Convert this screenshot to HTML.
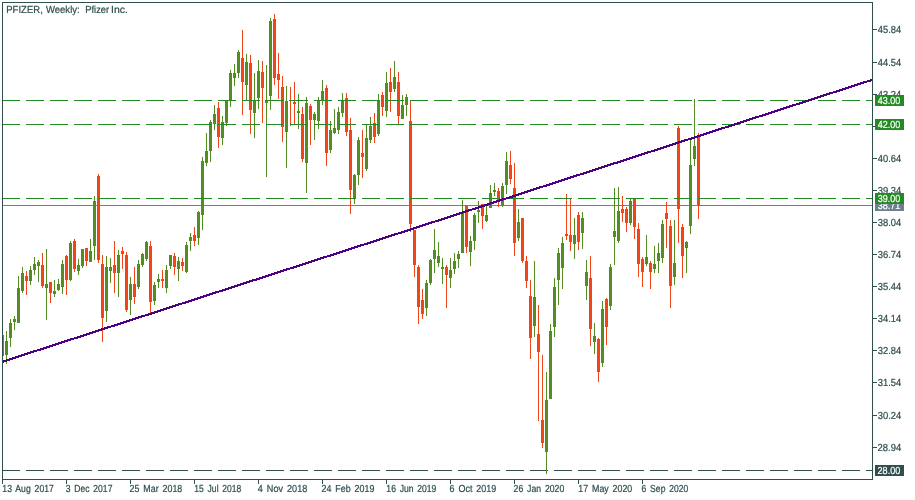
<!DOCTYPE html>
<html><head><meta charset="utf-8"><title>PFIZER Weekly</title>
<style>
html,body{margin:0;padding:0;background:#fff;}
body{width:915px;height:500px;overflow:hidden;}
svg{display:block;transform:translateZ(0);will-change:transform;}
text{font-family:"Liberation Sans",sans-serif;font-size:10.2px;stroke-width:0.22px;}
</style></head><body>
<svg width="915" height="500" viewBox="0 0 915 500">
<rect x="0" y="0" width="915" height="500" fill="#ffffff"/>
<line x1="2" y1="470.5" x2="872" y2="470.5" stroke="#2f4f4f" stroke-width="1" stroke-dasharray="18 6" shape-rendering="crispEdges"/>
<rect x="3" y="205" width="869" height="1" fill="#708090" shape-rendering="crispEdges"/>
<g fill="#548c24" shape-rendering="crispEdges"><rect x="6" y="331" width="1" height="33"/><rect x="5" y="341" width="3" height="14"/><rect x="10" y="319" width="1" height="28"/><rect x="9" y="323" width="3" height="15"/><rect x="14" y="316" width="1" height="14"/><rect x="13" y="319" width="3" height="3"/><rect x="18" y="276" width="1" height="47"/><rect x="17" y="288" width="3" height="35"/><rect x="22" y="267" width="1" height="26"/><rect x="21" y="273" width="3" height="18"/><rect x="30" y="266" width="1" height="19"/><rect x="29" y="270" width="3" height="11"/><rect x="34" y="257" width="1" height="18"/><rect x="33" y="264" width="3" height="6"/><rect x="38" y="260" width="1" height="22"/><rect x="37" y="262" width="3" height="4"/><rect x="46" y="249" width="1" height="71"/><rect x="45" y="284" width="3" height="4"/><rect x="54" y="280" width="1" height="17"/><rect x="53" y="291" width="3" height="3"/><rect x="58" y="279" width="1" height="12"/><rect x="57" y="284" width="3" height="6"/><rect x="62" y="260" width="1" height="34"/><rect x="61" y="264" width="3" height="23"/><rect x="70" y="241" width="1" height="40"/><rect x="69" y="243" width="3" height="37"/><rect x="78" y="259" width="1" height="16"/><rect x="77" y="265" width="3" height="6"/><rect x="82" y="249" width="1" height="19"/><rect x="81" y="249" width="3" height="17"/><rect x="90" y="239" width="1" height="23"/><rect x="89" y="251" width="3" height="11"/><rect x="94" y="196" width="1" height="64"/><rect x="93" y="201" width="3" height="45"/><rect x="106" y="256" width="1" height="66"/><rect x="105" y="267" width="3" height="44"/><rect x="110" y="258" width="1" height="25"/><rect x="109" y="267" width="3" height="4"/><rect x="118" y="250" width="1" height="47"/><rect x="117" y="255" width="3" height="18"/><rect x="130" y="277" width="1" height="38"/><rect x="129" y="284" width="3" height="16"/><rect x="138" y="260" width="1" height="29"/><rect x="137" y="264" width="3" height="23"/><rect x="142" y="253" width="1" height="14"/><rect x="141" y="254" width="3" height="11"/><rect x="146" y="241" width="1" height="20"/><rect x="145" y="242" width="3" height="17"/><rect x="154" y="282" width="1" height="23"/><rect x="153" y="285" width="3" height="16"/><rect x="158" y="274" width="1" height="14"/><rect x="157" y="279" width="3" height="3"/><rect x="166" y="265" width="1" height="28"/><rect x="165" y="270" width="3" height="18"/><rect x="170" y="255" width="1" height="14"/><rect x="169" y="255" width="3" height="11"/><rect x="178" y="257" width="1" height="24"/><rect x="177" y="261" width="3" height="8"/><rect x="186" y="242" width="1" height="31"/><rect x="185" y="245" width="3" height="27"/><rect x="190" y="233" width="1" height="18"/><rect x="189" y="237" width="3" height="4"/><rect x="198" y="211" width="1" height="34"/><rect x="197" y="212" width="3" height="26"/><rect x="202" y="157" width="1" height="73"/><rect x="201" y="161" width="3" height="54"/><rect x="206" y="133" width="1" height="33"/><rect x="205" y="151" width="3" height="12"/><rect x="210" y="120" width="1" height="42"/><rect x="209" y="122" width="3" height="29"/><rect x="214" y="105" width="1" height="25"/><rect x="213" y="114" width="3" height="10"/><rect x="222" y="116" width="1" height="29"/><rect x="221" y="122" width="3" height="16"/><rect x="226" y="100" width="1" height="26"/><rect x="225" y="101" width="3" height="22"/><rect x="230" y="70" width="1" height="37"/><rect x="229" y="73" width="3" height="27"/><rect x="234" y="64" width="1" height="22"/><rect x="233" y="73" width="3" height="5"/><rect x="238" y="50" width="1" height="28"/><rect x="237" y="52" width="3" height="21"/><rect x="246" y="54" width="1" height="46"/><rect x="245" y="62" width="3" height="23"/><rect x="254" y="73" width="1" height="65"/><rect x="253" y="101" width="3" height="12"/><rect x="258" y="60" width="1" height="49"/><rect x="257" y="71" width="3" height="27"/><rect x="266" y="65" width="1" height="112"/><rect x="265" y="100" width="3" height="3"/><rect x="270" y="18" width="1" height="92"/><rect x="269" y="21" width="3" height="75"/><rect x="286" y="86" width="1" height="82"/><rect x="285" y="101" width="3" height="31"/><rect x="298" y="94" width="1" height="35"/><rect x="297" y="111" width="3" height="2"/><rect x="306" y="97" width="1" height="96"/><rect x="305" y="103" width="3" height="60"/><rect x="314" y="112" width="1" height="28"/><rect x="313" y="114" width="3" height="6"/><rect x="318" y="97" width="1" height="32"/><rect x="317" y="101" width="3" height="20"/><rect x="322" y="80" width="1" height="25"/><rect x="321" y="91" width="3" height="9"/><rect x="330" y="121" width="1" height="32"/><rect x="329" y="130" width="3" height="20"/><rect x="334" y="109" width="1" height="25"/><rect x="333" y="128" width="3" height="5"/><rect x="338" y="107" width="1" height="27"/><rect x="337" y="112" width="3" height="18"/><rect x="342" y="93" width="1" height="24"/><rect x="341" y="100" width="3" height="13"/><rect x="354" y="174" width="1" height="30"/><rect x="353" y="175" width="3" height="23"/><rect x="358" y="137" width="1" height="48"/><rect x="357" y="140" width="3" height="35"/><rect x="366" y="124" width="1" height="47"/><rect x="365" y="138" width="3" height="31"/><rect x="370" y="117" width="1" height="26"/><rect x="369" y="126" width="3" height="14"/><rect x="378" y="94" width="1" height="42"/><rect x="377" y="100" width="3" height="34"/><rect x="386" y="72" width="1" height="45"/><rect x="385" y="83" width="3" height="28"/><rect x="394" y="61" width="1" height="31"/><rect x="393" y="77" width="3" height="12"/><rect x="402" y="95" width="1" height="24"/><rect x="401" y="105" width="3" height="14"/><rect x="406" y="94" width="1" height="22"/><rect x="405" y="97" width="3" height="8"/><rect x="426" y="280" width="1" height="36"/><rect x="425" y="283" width="3" height="25"/><rect x="430" y="259" width="1" height="26"/><rect x="429" y="260" width="3" height="23"/><rect x="434" y="229" width="1" height="44"/><rect x="433" y="250" width="3" height="9"/><rect x="438" y="242" width="1" height="25"/><rect x="437" y="256" width="3" height="7"/><rect x="442" y="258" width="1" height="26"/><rect x="441" y="267" width="3" height="2"/><rect x="450" y="258" width="1" height="30"/><rect x="449" y="270" width="3" height="8"/><rect x="454" y="253" width="1" height="21"/><rect x="453" y="261" width="3" height="8"/><rect x="458" y="251" width="1" height="17"/><rect x="457" y="254" width="3" height="5"/><rect x="462" y="200" width="1" height="53"/><rect x="461" y="213" width="3" height="40"/><rect x="470" y="236" width="1" height="30"/><rect x="469" y="241" width="3" height="11"/><rect x="474" y="213" width="1" height="37"/><rect x="473" y="215" width="3" height="26"/><rect x="478" y="201" width="1" height="22"/><rect x="477" y="210" width="3" height="2"/><rect x="486" y="206" width="1" height="16"/><rect x="485" y="215" width="3" height="6"/><rect x="490" y="185" width="1" height="23"/><rect x="489" y="193" width="3" height="15"/><rect x="494" y="183" width="1" height="13"/><rect x="493" y="190" width="3" height="2"/><rect x="502" y="183" width="1" height="24"/><rect x="501" y="186" width="3" height="20"/><rect x="506" y="152" width="1" height="42"/><rect x="505" y="161" width="3" height="24"/><rect x="518" y="209" width="1" height="32"/><rect x="517" y="222" width="3" height="16"/><rect x="534" y="261" width="1" height="76"/><rect x="533" y="297" width="3" height="29"/><rect x="546" y="372" width="1" height="102"/><rect x="545" y="400" width="3" height="52"/><rect x="550" y="324" width="1" height="75"/><rect x="549" y="331" width="3" height="68"/><rect x="554" y="278" width="1" height="59"/><rect x="553" y="287" width="3" height="40"/><rect x="558" y="248" width="1" height="57"/><rect x="557" y="253" width="3" height="27"/><rect x="562" y="237" width="1" height="52"/><rect x="561" y="243" width="3" height="25"/><rect x="574" y="218" width="1" height="41"/><rect x="573" y="235" width="3" height="9"/><rect x="582" y="212" width="1" height="37"/><rect x="581" y="218" width="3" height="15"/><rect x="586" y="260" width="1" height="40"/><rect x="585" y="272" width="3" height="14"/><rect x="594" y="323" width="1" height="31"/><rect x="593" y="336" width="3" height="6"/><rect x="602" y="301" width="1" height="66"/><rect x="601" y="309" width="3" height="54"/><rect x="610" y="264" width="1" height="46"/><rect x="609" y="267" width="3" height="39"/><rect x="614" y="188" width="1" height="77"/><rect x="613" y="231" width="3" height="6"/><rect x="618" y="187" width="1" height="56"/><rect x="617" y="211" width="3" height="30"/><rect x="630" y="198" width="1" height="27"/><rect x="629" y="201" width="3" height="22"/><rect x="646" y="235" width="1" height="31"/><rect x="645" y="257" width="3" height="7"/><rect x="654" y="246" width="1" height="27"/><rect x="653" y="264" width="3" height="5"/><rect x="658" y="243" width="1" height="30"/><rect x="657" y="253" width="3" height="8"/><rect x="662" y="220" width="1" height="43"/><rect x="661" y="224" width="3" height="34"/><rect x="674" y="220" width="1" height="65"/><rect x="673" y="263" width="3" height="14"/><rect x="686" y="241" width="1" height="32"/><rect x="685" y="242" width="3" height="6"/><rect x="690" y="140" width="1" height="94"/><rect x="689" y="165" width="3" height="61"/><rect x="694" y="99" width="1" height="67"/><rect x="693" y="146" width="3" height="13"/></g>
<g fill="#ef4519" shape-rendering="crispEdges"><rect x="3" y="335" width="1" height="21"/><rect x="26" y="271" width="1" height="24"/><rect x="25" y="276" width="3" height="5"/><rect x="42" y="253" width="1" height="35"/><rect x="41" y="265" width="3" height="21"/><rect x="50" y="282" width="1" height="21"/><rect x="49" y="282" width="3" height="11"/><rect x="66" y="255" width="1" height="40"/><rect x="65" y="256" width="3" height="24"/><rect x="74" y="239" width="1" height="33"/><rect x="73" y="241" width="3" height="28"/><rect x="86" y="248" width="1" height="18"/><rect x="85" y="248" width="3" height="13"/><rect x="98" y="174" width="1" height="89"/><rect x="97" y="176" width="3" height="84"/><rect x="102" y="255" width="1" height="87"/><rect x="101" y="264" width="3" height="54"/><rect x="114" y="241" width="1" height="52"/><rect x="113" y="265" width="3" height="8"/><rect x="122" y="247" width="1" height="22"/><rect x="121" y="251" width="3" height="3"/><rect x="126" y="252" width="1" height="60"/><rect x="125" y="255" width="3" height="55"/><rect x="134" y="267" width="1" height="37"/><rect x="133" y="284" width="3" height="13"/><rect x="150" y="241" width="1" height="72"/><rect x="149" y="246" width="3" height="56"/><rect x="162" y="270" width="1" height="18"/><rect x="161" y="279" width="3" height="2"/><rect x="174" y="253" width="1" height="22"/><rect x="173" y="256" width="3" height="11"/><rect x="182" y="258" width="1" height="13"/><rect x="181" y="262" width="3" height="4"/><rect x="194" y="227" width="1" height="19"/><rect x="193" y="235" width="3" height="6"/><rect x="218" y="102" width="1" height="46"/><rect x="217" y="108" width="3" height="29"/><rect x="242" y="30" width="1" height="85"/><rect x="241" y="58" width="3" height="24"/><rect x="250" y="55" width="1" height="79"/><rect x="249" y="63" width="3" height="47"/><rect x="262" y="61" width="1" height="62"/><rect x="261" y="72" width="3" height="16"/><rect x="274" y="14" width="1" height="71"/><rect x="273" y="19" width="3" height="59"/><rect x="278" y="53" width="1" height="46"/><rect x="277" y="74" width="3" height="6"/><rect x="282" y="76" width="1" height="66"/><rect x="281" y="87" width="3" height="40"/><rect x="290" y="87" width="1" height="39"/><rect x="289" y="100" width="3" height="1"/><rect x="294" y="82" width="1" height="42"/><rect x="293" y="102" width="3" height="2"/><rect x="302" y="107" width="1" height="55"/><rect x="301" y="114" width="3" height="45"/><rect x="310" y="104" width="1" height="41"/><rect x="309" y="106" width="3" height="14"/><rect x="326" y="85" width="1" height="81"/><rect x="325" y="88" width="3" height="65"/><rect x="346" y="93" width="1" height="43"/><rect x="345" y="98" width="3" height="34"/><rect x="350" y="118" width="1" height="96"/><rect x="349" y="130" width="3" height="60"/><rect x="362" y="130" width="1" height="48"/><rect x="361" y="153" width="3" height="4"/><rect x="374" y="113" width="1" height="30"/><rect x="373" y="123" width="3" height="14"/><rect x="382" y="92" width="1" height="24"/><rect x="381" y="95" width="3" height="12"/><rect x="390" y="68" width="1" height="44"/><rect x="389" y="82" width="3" height="10"/><rect x="398" y="72" width="1" height="52"/><rect x="397" y="82" width="3" height="34"/><rect x="410" y="100" width="1" height="132"/><rect x="409" y="121" width="3" height="103"/><rect x="414" y="230" width="1" height="47"/><rect x="413" y="230" width="3" height="35"/><rect x="418" y="265" width="1" height="59"/><rect x="417" y="267" width="3" height="40"/><rect x="422" y="289" width="1" height="30"/><rect x="421" y="300" width="3" height="14"/><rect x="446" y="265" width="1" height="43"/><rect x="445" y="267" width="3" height="8"/><rect x="466" y="205" width="1" height="48"/><rect x="465" y="206" width="3" height="41"/><rect x="482" y="204" width="1" height="25"/><rect x="481" y="204" width="3" height="12"/><rect x="498" y="188" width="1" height="19"/><rect x="497" y="191" width="3" height="9"/><rect x="510" y="151" width="1" height="33"/><rect x="509" y="165" width="3" height="14"/><rect x="514" y="163" width="1" height="93"/><rect x="513" y="188" width="3" height="55"/><rect x="522" y="218" width="1" height="45"/><rect x="521" y="218" width="3" height="43"/><rect x="526" y="256" width="1" height="32"/><rect x="525" y="261" width="3" height="20"/><rect x="530" y="280" width="1" height="79"/><rect x="529" y="296" width="3" height="42"/><rect x="538" y="305" width="1" height="116"/><rect x="537" y="334" width="3" height="18"/><rect x="542" y="355" width="1" height="93"/><rect x="541" y="420" width="3" height="23"/><rect x="566" y="194" width="1" height="46"/><rect x="565" y="234" width="3" height="2"/><rect x="570" y="198" width="1" height="53"/><rect x="569" y="235" width="3" height="7"/><rect x="578" y="212" width="1" height="38"/><rect x="577" y="215" width="3" height="27"/><rect x="590" y="256" width="1" height="90"/><rect x="589" y="278" width="3" height="51"/><rect x="598" y="338" width="1" height="44"/><rect x="597" y="339" width="3" height="33"/><rect x="606" y="298" width="1" height="47"/><rect x="605" y="299" width="3" height="28"/><rect x="622" y="196" width="1" height="26"/><rect x="621" y="209" width="3" height="4"/><rect x="626" y="207" width="1" height="25"/><rect x="625" y="209" width="3" height="14"/><rect x="634" y="198" width="1" height="41"/><rect x="633" y="199" width="3" height="28"/><rect x="638" y="223" width="1" height="54"/><rect x="637" y="229" width="3" height="35"/><rect x="642" y="257" width="1" height="30"/><rect x="641" y="259" width="3" height="13"/><rect x="650" y="261" width="1" height="28"/><rect x="649" y="263" width="3" height="9"/><rect x="666" y="202" width="1" height="46"/><rect x="665" y="213" width="3" height="6"/><rect x="670" y="220" width="1" height="88"/><rect x="669" y="226" width="3" height="60"/><rect x="678" y="126" width="1" height="117"/><rect x="677" y="128" width="3" height="81"/><rect x="682" y="224" width="1" height="54"/><rect x="681" y="227" width="3" height="29"/><rect x="698" y="133" width="1" height="86"/><rect x="697" y="135" width="3" height="71"/></g>
<line x1="2" y1="100.5" x2="872" y2="100.5" stroke="#228b22" stroke-width="1" stroke-dasharray="18 6" shape-rendering="crispEdges"/>
<line x1="2" y1="124.5" x2="872" y2="124.5" stroke="#228b22" stroke-width="1" stroke-dasharray="18 6" shape-rendering="crispEdges"/>
<line x1="2" y1="198.5" x2="872" y2="198.5" stroke="#228b22" stroke-width="1" stroke-dasharray="18 6" shape-rendering="crispEdges"/>
<path d="M3 360h1v3h-1zM4 360h2v2h-2zM6 359h1v3h-1zM7 359h2v2h-2zM9 358h1v3h-1zM10 358h2v2h-2zM12 357h1v3h-1zM13 357h2v2h-2zM15 356h1v3h-1zM16 356h2v2h-2zM18 355h1v3h-1zM19 355h2v2h-2zM21 354h1v3h-1zM22 354h2v2h-2zM24 353h1v3h-1zM25 353h2v2h-2zM27 352h1v3h-1zM28 352h2v2h-2zM30 351h1v3h-1zM31 351h2v2h-2zM33 350h1v3h-1zM34 350h3v2h-3zM37 349h3v2h-3zM40 348h1v3h-1zM41 348h2v2h-2zM43 347h1v3h-1zM44 347h2v2h-2zM46 346h1v3h-1zM47 346h2v2h-2zM49 345h1v3h-1zM50 345h2v2h-2zM52 344h1v3h-1zM53 344h2v2h-2zM55 343h1v3h-1zM56 343h2v2h-2zM58 342h1v3h-1zM59 342h2v2h-2zM61 341h1v3h-1zM62 341h2v2h-2zM64 340h1v3h-1zM65 340h2v2h-2zM67 339h1v3h-1zM68 339h2v2h-2zM70 338h1v3h-1zM71 338h3v2h-3zM74 337h3v2h-3zM77 336h1v3h-1zM78 336h2v2h-2zM80 335h1v3h-1zM81 335h2v2h-2zM83 334h1v3h-1zM84 334h2v2h-2zM86 333h1v3h-1zM87 333h2v2h-2zM89 332h1v3h-1zM90 332h2v2h-2zM92 331h1v3h-1zM93 331h2v2h-2zM95 330h1v3h-1zM96 330h2v2h-2zM98 329h1v3h-1zM99 329h2v2h-2zM101 328h1v3h-1zM102 328h2v2h-2zM104 327h1v3h-1zM105 327h2v2h-2zM107 326h1v3h-1zM108 326h3v2h-3zM111 325h3v2h-3zM114 324h1v3h-1zM115 324h2v2h-2zM117 323h1v3h-1zM118 323h2v2h-2zM120 322h1v3h-1zM121 322h2v2h-2zM123 321h1v3h-1zM124 321h2v2h-2zM126 320h1v3h-1zM127 320h2v2h-2zM129 319h1v3h-1zM130 319h2v2h-2zM132 318h1v3h-1zM133 318h2v2h-2zM135 317h1v3h-1zM136 317h2v2h-2zM138 316h1v3h-1zM139 316h2v2h-2zM141 315h1v3h-1zM142 315h3v2h-3zM145 314h3v2h-3zM148 313h1v3h-1zM149 313h2v2h-2zM151 312h1v3h-1zM152 312h2v2h-2zM154 311h1v3h-1zM155 311h2v2h-2zM157 310h1v3h-1zM158 310h2v2h-2zM160 309h1v3h-1zM161 309h2v2h-2zM163 308h1v3h-1zM164 308h2v2h-2zM166 307h1v3h-1zM167 307h2v2h-2zM169 306h1v3h-1zM170 306h2v2h-2zM172 305h1v3h-1zM173 305h2v2h-2zM175 304h1v3h-1zM176 304h2v2h-2zM178 303h1v3h-1zM179 303h3v2h-3zM182 302h3v2h-3zM185 301h1v3h-1zM186 301h2v2h-2zM188 300h1v3h-1zM189 300h2v2h-2zM191 299h1v3h-1zM192 299h2v2h-2zM194 298h1v3h-1zM195 298h2v2h-2zM197 297h1v3h-1zM198 297h2v2h-2zM200 296h1v3h-1zM201 296h2v2h-2zM203 295h1v3h-1zM204 295h2v2h-2zM206 294h1v3h-1zM207 294h2v2h-2zM209 293h1v3h-1zM210 293h2v2h-2zM212 292h1v3h-1zM213 292h2v2h-2zM215 291h1v3h-1zM216 291h3v2h-3zM219 290h3v2h-3zM222 289h1v3h-1zM223 289h2v2h-2zM225 288h1v3h-1zM226 288h2v2h-2zM228 287h1v3h-1zM229 287h2v2h-2zM231 286h1v3h-1zM232 286h2v2h-2zM234 285h1v3h-1zM235 285h2v2h-2zM237 284h1v3h-1zM238 284h2v2h-2zM240 283h1v3h-1zM241 283h2v2h-2zM243 282h1v3h-1zM244 282h2v2h-2zM246 281h1v3h-1zM247 281h2v2h-2zM249 280h1v3h-1zM250 280h2v2h-2zM252 279h1v3h-1zM253 279h3v2h-3zM256 278h1v3h-1zM257 278h2v2h-2zM259 277h1v3h-1zM260 277h2v2h-2zM262 276h1v3h-1zM263 276h2v2h-2zM265 275h1v3h-1zM266 275h2v2h-2zM268 274h1v3h-1zM269 274h2v2h-2zM271 273h1v3h-1zM272 273h2v2h-2zM274 272h1v3h-1zM275 272h2v2h-2zM277 271h1v3h-1zM278 271h2v2h-2zM280 270h1v3h-1zM281 270h2v2h-2zM283 269h1v3h-1zM284 269h2v2h-2zM286 268h1v3h-1zM287 268h3v2h-3zM290 267h3v2h-3zM293 266h1v3h-1zM294 266h2v2h-2zM296 265h1v3h-1zM297 265h2v2h-2zM299 264h1v3h-1zM300 264h2v2h-2zM302 263h1v3h-1zM303 263h2v2h-2zM305 262h1v3h-1zM306 262h2v2h-2zM308 261h1v3h-1zM309 261h2v2h-2zM311 260h1v3h-1zM312 260h2v2h-2zM314 259h1v3h-1zM315 259h2v2h-2zM317 258h1v3h-1zM318 258h2v2h-2zM320 257h1v3h-1zM321 257h2v2h-2zM323 256h1v3h-1zM324 256h3v2h-3zM327 255h3v2h-3zM330 254h1v3h-1zM331 254h2v2h-2zM333 253h1v3h-1zM334 253h2v2h-2zM336 252h1v3h-1zM337 252h2v2h-2zM339 251h1v3h-1zM340 251h2v2h-2zM342 250h1v3h-1zM343 250h2v2h-2zM345 249h1v3h-1zM346 249h2v2h-2zM348 248h1v3h-1zM349 248h2v2h-2zM351 247h1v3h-1zM352 247h2v2h-2zM354 246h1v3h-1zM355 246h2v2h-2zM357 245h1v3h-1zM358 245h2v2h-2zM360 244h1v3h-1zM361 244h3v2h-3zM364 243h3v2h-3zM367 242h1v3h-1zM368 242h2v2h-2zM370 241h1v3h-1zM371 241h2v2h-2zM373 240h1v3h-1zM374 240h2v2h-2zM376 239h1v3h-1zM377 239h2v2h-2zM379 238h1v3h-1zM380 238h2v2h-2zM382 237h1v3h-1zM383 237h2v2h-2zM385 236h1v3h-1zM386 236h2v2h-2zM388 235h1v3h-1zM389 235h2v2h-2zM391 234h1v3h-1zM392 234h2v2h-2zM394 233h1v3h-1zM395 233h3v2h-3zM398 232h3v2h-3zM401 231h1v3h-1zM402 231h2v2h-2zM404 230h1v3h-1zM405 230h2v2h-2zM407 229h1v3h-1zM408 229h2v2h-2zM410 228h1v3h-1zM411 228h2v2h-2zM413 227h1v3h-1zM414 227h2v2h-2zM416 226h1v3h-1zM417 226h2v2h-2zM419 225h1v3h-1zM420 225h2v2h-2zM422 224h1v3h-1zM423 224h2v2h-2zM425 223h1v3h-1zM426 223h2v2h-2zM428 222h1v3h-1zM429 222h2v2h-2zM431 221h1v3h-1zM432 221h3v2h-3zM435 220h3v2h-3zM438 219h1v3h-1zM439 219h2v2h-2zM441 218h1v3h-1zM442 218h2v2h-2zM444 217h1v3h-1zM445 217h2v2h-2zM447 216h1v3h-1zM448 216h2v2h-2zM450 215h1v3h-1zM451 215h2v2h-2zM453 214h1v3h-1zM454 214h2v2h-2zM456 213h1v3h-1zM457 213h2v2h-2zM459 212h1v3h-1zM460 212h2v2h-2zM462 211h1v3h-1zM463 211h2v2h-2zM465 210h1v3h-1zM466 210h2v2h-2zM468 209h1v3h-1zM469 209h3v2h-3zM472 208h3v2h-3zM475 207h1v3h-1zM476 207h2v2h-2zM478 206h1v3h-1zM479 206h2v2h-2zM481 205h1v3h-1zM482 205h2v2h-2zM484 204h1v3h-1zM485 204h2v2h-2zM487 203h1v3h-1zM488 203h2v2h-2zM490 202h1v3h-1zM491 202h2v2h-2zM493 201h1v3h-1zM494 201h2v2h-2zM496 200h1v3h-1zM497 200h2v2h-2zM499 199h1v3h-1zM500 199h2v2h-2zM502 198h1v3h-1zM503 198h3v2h-3zM506 197h3v2h-3zM509 196h1v3h-1zM510 196h2v2h-2zM512 195h1v3h-1zM513 195h2v2h-2zM515 194h1v3h-1zM516 194h2v2h-2zM518 193h1v3h-1zM519 193h2v2h-2zM521 192h1v3h-1zM522 192h2v2h-2zM524 191h1v3h-1zM525 191h2v2h-2zM527 190h1v3h-1zM528 190h2v2h-2zM530 189h1v3h-1zM531 189h2v2h-2zM533 188h1v3h-1zM534 188h2v2h-2zM536 187h1v3h-1zM537 187h2v2h-2zM539 186h1v3h-1zM540 186h3v2h-3zM543 185h3v2h-3zM546 184h1v3h-1zM547 184h2v2h-2zM549 183h1v3h-1zM550 183h2v2h-2zM552 182h1v3h-1zM553 182h2v2h-2zM555 181h1v3h-1zM556 181h2v2h-2zM558 180h1v3h-1zM559 180h2v2h-2zM561 179h1v3h-1zM562 179h2v2h-2zM564 178h1v3h-1zM565 178h2v2h-2zM567 177h1v3h-1zM568 177h2v2h-2zM570 176h1v3h-1zM571 176h2v2h-2zM573 175h1v3h-1zM574 175h2v2h-2zM576 174h1v3h-1zM577 174h3v2h-3zM580 173h3v2h-3zM583 172h1v3h-1zM584 172h2v2h-2zM586 171h1v3h-1zM587 171h2v2h-2zM589 170h1v3h-1zM590 170h2v2h-2zM592 169h1v3h-1zM593 169h2v2h-2zM595 168h1v3h-1zM596 168h2v2h-2zM598 167h1v3h-1zM599 167h2v2h-2zM601 166h1v3h-1zM602 166h2v2h-2zM604 165h1v3h-1zM605 165h2v2h-2zM607 164h1v3h-1zM608 164h2v2h-2zM610 163h1v3h-1zM611 163h2v2h-2zM613 162h1v3h-1zM614 162h3v2h-3zM617 161h1v3h-1zM618 161h2v2h-2zM620 160h1v3h-1zM621 160h2v2h-2zM623 159h1v3h-1zM624 159h2v2h-2zM626 158h1v3h-1zM627 158h2v2h-2zM629 157h1v3h-1zM630 157h2v2h-2zM632 156h1v3h-1zM633 156h2v2h-2zM635 155h1v3h-1zM636 155h2v2h-2zM638 154h1v3h-1zM639 154h2v2h-2zM641 153h1v3h-1zM642 153h2v2h-2zM644 152h1v3h-1zM645 152h2v2h-2zM647 151h1v3h-1zM648 151h3v2h-3zM651 150h3v2h-3zM654 149h1v3h-1zM655 149h2v2h-2zM657 148h1v3h-1zM658 148h2v2h-2zM660 147h1v3h-1zM661 147h2v2h-2zM663 146h1v3h-1zM664 146h2v2h-2zM666 145h1v3h-1zM667 145h2v2h-2zM669 144h1v3h-1zM670 144h2v2h-2zM672 143h1v3h-1zM673 143h2v2h-2zM675 142h1v3h-1zM676 142h2v2h-2zM678 141h1v3h-1zM679 141h2v2h-2zM681 140h1v3h-1zM682 140h2v2h-2zM684 139h1v3h-1zM685 139h3v2h-3zM688 138h3v2h-3zM691 137h1v3h-1zM692 137h2v2h-2zM694 136h1v3h-1zM695 136h2v2h-2zM697 135h1v3h-1zM698 135h2v2h-2zM700 134h1v3h-1zM701 134h2v2h-2zM703 133h1v3h-1zM704 133h2v2h-2zM706 132h1v3h-1zM707 132h2v2h-2zM709 131h1v3h-1zM710 131h2v2h-2zM712 130h1v3h-1zM713 130h2v2h-2zM715 129h1v3h-1zM716 129h2v2h-2zM718 128h1v3h-1zM719 128h2v2h-2zM721 127h1v3h-1zM722 127h3v2h-3zM725 126h3v2h-3zM728 125h1v3h-1zM729 125h2v2h-2zM731 124h1v3h-1zM732 124h2v2h-2zM734 123h1v3h-1zM735 123h2v2h-2zM737 122h1v3h-1zM738 122h2v2h-2zM740 121h1v3h-1zM741 121h2v2h-2zM743 120h1v3h-1zM744 120h2v2h-2zM746 119h1v3h-1zM747 119h2v2h-2zM749 118h1v3h-1zM750 118h2v2h-2zM752 117h1v3h-1zM753 117h2v2h-2zM755 116h1v3h-1zM756 116h3v2h-3zM759 115h3v2h-3zM762 114h1v3h-1zM763 114h2v2h-2zM765 113h1v3h-1zM766 113h2v2h-2zM768 112h1v3h-1zM769 112h2v2h-2zM771 111h1v3h-1zM772 111h2v2h-2zM774 110h1v3h-1zM775 110h2v2h-2zM777 109h1v3h-1zM778 109h2v2h-2zM780 108h1v3h-1zM781 108h2v2h-2zM783 107h1v3h-1zM784 107h2v2h-2zM786 106h1v3h-1zM787 106h2v2h-2zM789 105h1v3h-1zM790 105h2v2h-2zM792 104h1v3h-1zM793 104h3v2h-3zM796 103h3v2h-3zM799 102h1v3h-1zM800 102h2v2h-2zM802 101h1v3h-1zM803 101h2v2h-2zM805 100h1v3h-1zM806 100h2v2h-2zM808 99h1v3h-1zM809 99h2v2h-2zM811 98h1v3h-1zM812 98h2v2h-2zM814 97h1v3h-1zM815 97h2v2h-2zM817 96h1v3h-1zM818 96h2v2h-2zM820 95h1v3h-1zM821 95h2v2h-2zM823 94h1v3h-1zM824 94h2v2h-2zM826 93h1v3h-1zM827 93h2v2h-2zM829 92h1v3h-1zM830 92h3v2h-3zM833 91h3v2h-3zM836 90h1v3h-1zM837 90h2v2h-2zM839 89h1v3h-1zM840 89h2v2h-2zM842 88h1v3h-1zM843 88h2v2h-2zM845 87h1v3h-1zM846 87h2v2h-2zM848 86h1v3h-1zM849 86h2v2h-2zM851 85h1v3h-1zM852 85h2v2h-2zM854 84h1v3h-1zM855 84h2v2h-2zM857 83h1v3h-1zM858 83h2v2h-2zM860 82h1v3h-1zM861 82h2v2h-2zM863 81h1v3h-1zM864 81h3v2h-3zM867 80h3v2h-3zM870 79h1v3h-1zM871 79h1v2h-1z" fill="#4b0082" shape-rendering="crispEdges"/>
<g fill="#2f4f4f" shape-rendering="crispEdges"><rect x="2" y="2" width="871" height="1"/><rect x="2" y="2" width="1" height="478"/><rect x="872" y="2" width="1" height="478"/><rect x="2" y="479" width="871" height="1"/><rect x="873" y="29" width="4" height="1"/><rect x="873" y="62" width="4" height="1"/><rect x="873" y="94" width="4" height="1"/><rect x="873" y="126" width="4" height="1"/><rect x="873" y="158" width="4" height="1"/><rect x="873" y="190" width="4" height="1"/><rect x="873" y="222" width="4" height="1"/><rect x="873" y="254" width="4" height="1"/><rect x="873" y="286" width="4" height="1"/><rect x="873" y="318" width="4" height="1"/><rect x="873" y="350" width="4" height="1"/><rect x="873" y="382" width="4" height="1"/><rect x="873" y="415" width="4" height="1"/><rect x="873" y="447" width="4" height="1"/><rect x="2" y="480" width="1" height="4"/><rect x="66" y="480" width="1" height="4"/><rect x="130" y="480" width="1" height="4"/><rect x="194" y="480" width="1" height="4"/><rect x="258" y="480" width="1" height="4"/><rect x="322" y="480" width="1" height="4"/><rect x="386" y="480" width="1" height="4"/><rect x="450" y="480" width="1" height="4"/><rect x="514" y="480" width="1" height="4"/><rect x="578" y="480" width="1" height="4"/><rect x="642" y="480" width="1" height="4"/></g>
<g fill="#2f4f4f" stroke="#2f4f4f"><text transform="matrix(0.9203,0,0.005,1,877.78,33)">45.84</text><text transform="matrix(0.9203,0,0.005,1,877.78,66)">44.54</text><text transform="matrix(0.9203,0,0.005,1,877.78,98)">43.24</text><text transform="matrix(0.9203,0,0.005,1,877.78,130)">41.94</text><text transform="matrix(0.9203,0,0.005,1,877.78,162)">40.64</text><text transform="matrix(0.9260,0,0.005,1,877.64,194)">39.34</text><text transform="matrix(0.9260,0,0.005,1,877.64,226)">38.04</text><text transform="matrix(0.9260,0,0.005,1,877.64,258)">36.74</text><text transform="matrix(0.9260,0,0.005,1,877.64,290)">35.44</text><text transform="matrix(0.9260,0,0.005,1,877.64,322)">34.14</text><text transform="matrix(0.9260,0,0.005,1,877.64,354)">32.84</text><text transform="matrix(0.9260,0,0.005,1,877.64,386)">31.54</text><text transform="matrix(0.9260,0,0.005,1,877.64,419)">30.24</text><text transform="matrix(0.9307,0,0.005,1,877.52,451)">28.94</text><text transform="matrix(0.8534,0,0.005,1,2.34,492)" word-spacing="1.6">13 Aug 2017</text><text transform="matrix(0.8445,0,0.005,1,65.67,492)" word-spacing="1.6">3 Dec 2017</text><text transform="matrix(0.8737,0,0.005,1,129.55,492)" word-spacing="1.6">25 Mar 2018</text><text transform="matrix(0.8406,0,0.005,1,194.35,492)" word-spacing="1.6">15 Jul 2018</text><text transform="matrix(0.8959,0,0.005,1,257.79,492)" word-spacing="1.6">4 Nov 2018</text><text transform="matrix(0.8742,0,0.005,1,321.55,492)" word-spacing="1.6">24 Feb 2019</text><text transform="matrix(0.8435,0,0.005,1,386.34,492)" word-spacing="1.6">16 Jun 2019</text><text transform="matrix(0.8829,0,0.005,1,449.54,492)" word-spacing="1.6">6 Oct 2019</text><text transform="matrix(0.8556,0,0.005,1,513.56,492)" word-spacing="1.6">26 Jan 2020</text><text transform="matrix(0.8689,0,0.005,1,578.32,492)" word-spacing="1.6">17 May 2020</text><text transform="matrix(0.8446,0,0.005,1,641.56,492)" word-spacing="1.6">6 Sep 2020</text><text transform="matrix(0.9371,0,0.005,1,6.22,13)">PFIZER,</text><text transform="matrix(0.9349,0,0.005,1,45.96,13)">Weekly:</text><text transform="matrix(0.9176,0,0.005,1,85.23,13)">Pfizer</text><text transform="matrix(1.0297,0,0.005,1,111.03,13)">Inc.</text></g>
<rect x="875" y="200" width="29" height="11" fill="#708090" shape-rendering="crispEdges"/><text transform="matrix(0.8929,0,0.005,1,877.65,209)" fill="#fff" stroke="#fff">38.71</text>
<rect x="875" y="95" width="29" height="11" fill="#228b22" shape-rendering="crispEdges"/><text transform="matrix(0.8838,0,0.005,1,877.79,104)" fill="#fff" stroke="#fff">43.00</text>
<rect x="875" y="119" width="29" height="11" fill="#228b22" shape-rendering="crispEdges"/><text transform="matrix(0.8838,0,0.005,1,877.79,128)" fill="#fff" stroke="#fff">42.00</text>
<rect x="875" y="193" width="29" height="11" fill="#228b22" shape-rendering="crispEdges"/><text transform="matrix(0.8893,0,0.005,1,877.65,202)" fill="#fff" stroke="#fff">39.00</text>
<rect x="875" y="465" width="29" height="11" fill="#2f4f4f" shape-rendering="crispEdges"/><text transform="matrix(0.8938,0,0.005,1,877.54,474)" fill="#fff" stroke="#fff">28.00</text>
</svg></body></html>
